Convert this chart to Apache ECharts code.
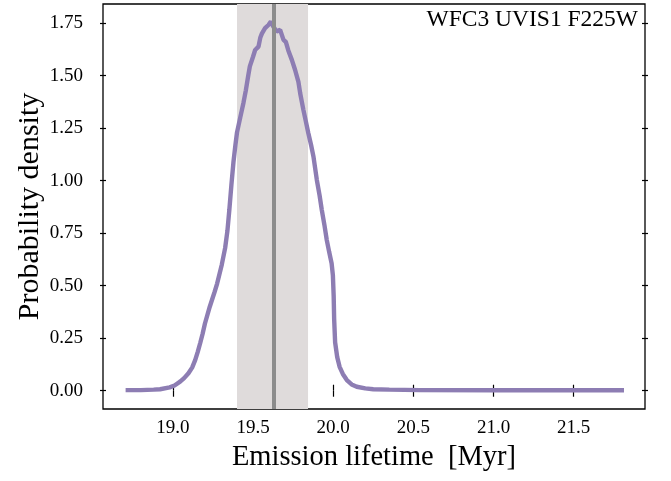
<!DOCTYPE html>
<html>
<head>
<meta charset="utf-8">
<script src="https://cdn.jsdelivr.net/npm/echarts@6/dist/echarts.min.js"></script>
<style>
  html, body { margin: 0; padding: 0; background: #fff; }
  #chart { width: 671px; height: 481px; }
</style>
</head>
<body>
<div id="chart"></div>
<script>
// emission lifetime grid (Myr) and probability density
const lifetime = [
  18.705, 18.80, 18.88, 18.92, 18.98, 19.01, 19.045, 19.07, 19.097, 19.12,
  19.139, 19.155, 19.17, 19.185, 19.20, 19.23, 19.26, 19.276, 19.305, 19.326,
  19.34, 19.352, 19.365, 19.378, 19.39, 19.40, 19.42, 19.44, 19.455, 19.47,
  19.48, 19.50, 19.513, 19.534, 19.545, 19.555, 19.575, 19.596, 19.611, 19.627,
  19.648, 19.669, 19.69, 19.705, 19.72, 19.742, 19.762, 19.783, 19.794, 19.814,
  19.83, 19.845, 19.862, 19.877, 19.898, 19.915, 19.929, 19.945, 19.96, 19.975,
  19.99, 19.998, 20.003, 20.006, 20.012, 20.025, 20.04, 20.06, 20.085, 20.115,
  20.147, 20.20, 20.25, 20.35, 20.54, 21.0, 21.814
];
const density = [
  0.003, 0.003, 0.005, 0.007, 0.016, 0.025, 0.043, 0.060, 0.083, 0.110,
  0.146, 0.185, 0.226, 0.270, 0.320, 0.400, 0.470, 0.510, 0.600, 0.680,
  0.760, 0.860, 0.980, 1.090, 1.170, 1.230, 1.300, 1.370, 1.430, 1.500,
  1.544, 1.590, 1.622, 1.638, 1.680, 1.700, 1.726, 1.741, 1.757, 1.733,
  1.710, 1.718, 1.670, 1.660, 1.620, 1.575, 1.528, 1.470, 1.416, 1.337,
  1.280, 1.226, 1.170, 1.114, 1.003, 0.930, 0.860, 0.790, 0.717, 0.660,
  0.607, 0.550, 0.450, 0.340, 0.230, 0.160, 0.114, 0.080, 0.051, 0.030,
  0.019, 0.011, 0.007, 0.005, 0.003, 0.002, 0.002
];
const xTicks = [19.0, 19.5, 20.0, 20.5, 21.0, 21.5];
const yTicks = [0, 0.25, 0.5, 0.75, 1.0, 1.25, 1.5, 1.75];
const band = [19.40, 19.843];
const bestLifetime = 19.625;

const font = 'Liberation Serif';
const xMin = 18.564, xMax = 21.945;
const yMin = -0.087, yMax = 1.841;

const chart = echarts.init(document.getElementById('chart'));

const points = lifetime.map((x, i) => [x, density[i]]);

// ticks cross the frame: axes shifted out by 3px, ticks 6px pointing in
const tickStyle = { color: '#000', width: 1.2 };

const option = {
  animation: false,
  backgroundColor: '#fff',
  title: {
    text: 'WFC3 UVIS1 F225W',
    right: 28,
    top: 3,
    textStyle: { fontFamily: font, fontSize: 23.5, fontWeight: 'normal', color: '#000' }
  },
  grid: {
    left: 103, right: 26, top: 4, bottom: 72,
    show: true, borderColor: '#000', borderWidth: 1.3, backgroundColor: 'transparent'
  },
  xAxis: [
    {
      type: 'value', position: 'bottom', min: xMin, max: xMax, offset: 3,
      splitLine: { show: false },
      axisLine: { show: false },
      axisTick: { inside: true, length: 6, customValues: xTicks, lineStyle: tickStyle },
      axisLabel: {
        customValues: xTicks, margin: 7, color: '#000', fontFamily: font, fontSize: 19,
        formatter: v => v.toFixed(1)
      },
      name: 'Emission lifetime  [Myr]', nameLocation: 'middle', nameGap: 31,
      nameTextStyle: { fontFamily: font, fontSize: 28.5, color: '#000' }
    },
    {
      type: 'value', position: 'top', min: xMin, max: xMax, offset: 3,
      splitLine: { show: false },
      axisLine: { show: false },
      axisTick: { inside: true, length: 6, customValues: xTicks, lineStyle: tickStyle },
      axisLabel: { show: false }
    }
  ],
  yAxis: [
    {
      type: 'value', position: 'left', min: yMin, max: yMax, offset: 3,
      splitLine: { show: false },
      axisLine: { show: false },
      axisTick: { inside: true, length: 6, customValues: yTicks, lineStyle: tickStyle },
      axisLabel: {
        customValues: yTicks, margin: 17, color: '#000', fontFamily: font, fontSize: 19,
        formatter: v => v.toFixed(2)
      },
      name: 'Probability density', nameLocation: 'middle', nameGap: 55, nameRotate: 90,
      nameMoveOverlap: false,
      nameTextStyle: { fontFamily: font, fontSize: 30, color: '#000' }
    },
    {
      type: 'value', position: 'right', min: yMin, max: yMax, offset: 3,
      splitLine: { show: false },
      axisLine: { show: false },
      axisTick: { inside: true, length: 6, customValues: yTicks, lineStyle: tickStyle },
      axisLabel: { show: false }
    }
  ],
  series: [
    {
      type: 'line',
      data: [],
      markArea: {
        silent: true,
        itemStyle: { color: '#dfdbdb' },
        data: [[{ xAxis: band[0] }, { xAxis: band[1] }]]
      },
      z: 1
    },
    {
      type: 'line',
      data: points,
      showSymbol: false,
      lineStyle: { color: '#8d7db3', width: 4.4 },
      z: 3
    },
    {
      type: 'line',
      data: [],
      markLine: {
        silent: true,
        symbol: 'none',
        label: { show: false },
        lineStyle: { color: '#8c8c8c', width: 4, type: 'solid' },
        data: [{ xAxis: bestLifetime }]
      },
      z: 5
    }
  ]
};

chart.setOption(option);
</script>
</body>
</html>
